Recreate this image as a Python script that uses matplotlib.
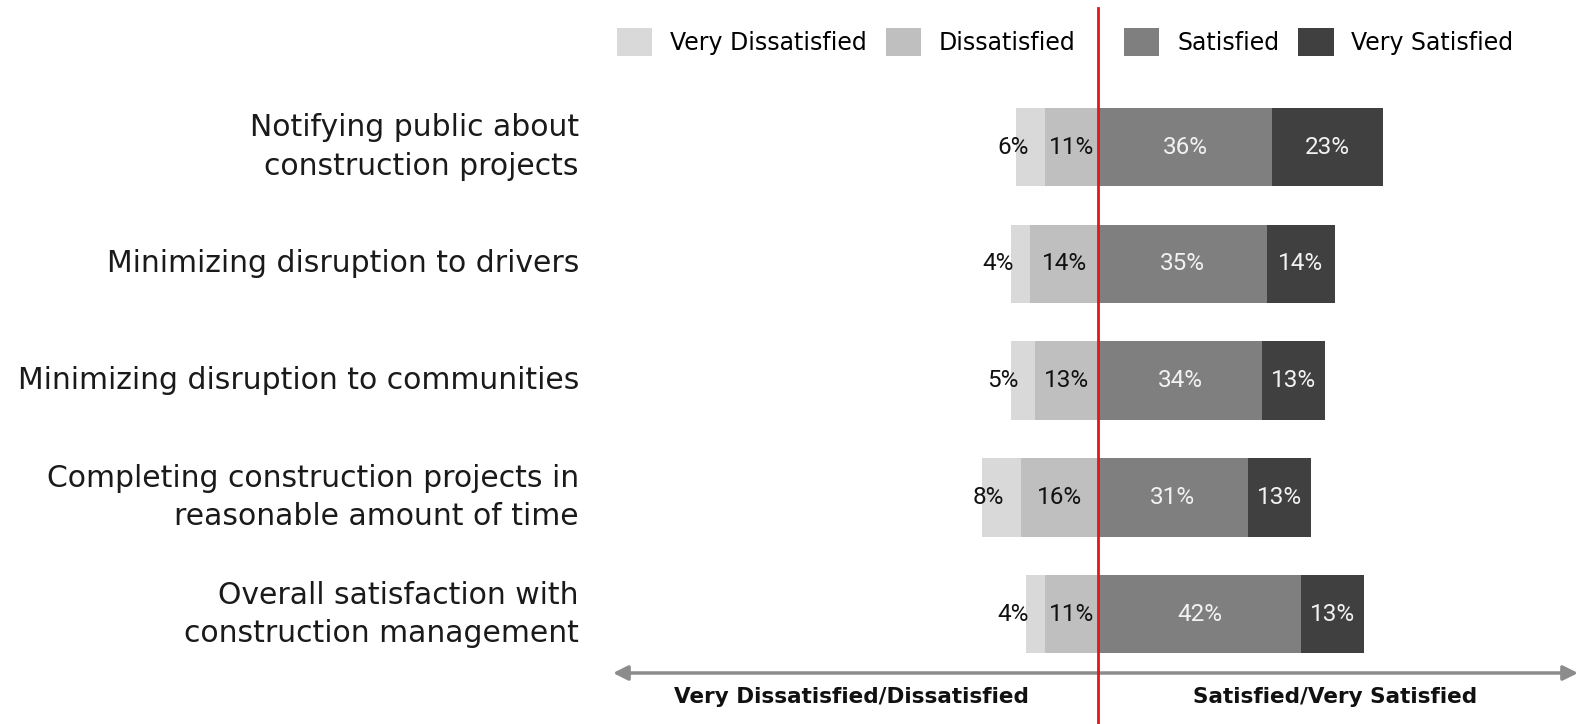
import numpy as np
import matplotlib.pyplot as plt

# survey items, top to bottom
items = ['Notifying public about\nconstruction projects',
         'Minimizing disruption to drivers',
         'Minimizing disruption to communities',
         'Completing construction projects in\nreasonable amount of time',
         'Overall satisfaction with\nconstruction management']
very_dissat = [6, 4, 5, 8, 4]
dissat      = [11, 14, 13, 16, 11]
satisfied   = [36, 35, 34, 31, 42]
very_sat    = [23, 14, 13, 13, 13]

c_vd, c_d, c_s, c_vs = '#D9D9D9', '#BFBFBF', '#7F7F7F', '#404040'
red = '#E8141B'

W, H = 1579, 724
fig = plt.figure(figsize=(W / 100, H / 100), dpi=100)
ax = fig.add_axes([0, 0, 1, 1])
# one data unit = 4.83 px, zero line at x=1098 px; rows 116.8 px apart, first at y=147
x0, ppu = 1098, 4.83
y0, row = 147, 116.8
ax.set_xlim(-x0 / ppu, (W - x0) / ppu)
ax.set_ylim((H - y0) / row, -y0 / row)
ax.axis('off')

def px_x(p):
    return (p - x0) / ppu

def px_y(p):
    return (p - y0) / row

y = np.arange(len(items))
vd = np.array(very_dissat); d = np.array(dissat)
s = np.array(satisfied); vs = np.array(very_sat)
bh = 0.67

b_vd = ax.barh(y, vd, left=-(d + vd), height=bh, color=c_vd, label='Very Dissatisfied')
b_d = ax.barh(y, d, left=-d, height=bh, color=c_d, label='Dissatisfied')
b_s = ax.barh(y, s, left=0, height=bh, color=c_s, label='Satisfied')
b_vs = ax.barh(y, vs, left=s, height=bh, color=c_vs, label='Very Satisfied')

pct_font = dict(family='Roboto', fontsize=17.5, va='center')
for i in y:
    ax.text(-d[i] - 3.4, i, f'{vd[i]}%', ha='right', color='#111111', **pct_font)
    ax.text(-d[i] / 2, i, f'{d[i]}%', ha='center', color='#111111', **pct_font)
    ax.text(s[i] / 2, i, f'{s[i]}%', ha='center', color='#F2F2F2', **pct_font)
    ax.text(s[i] + vs[i] / 2, i, f'{vs[i]}%', ha='center', color='#F2F2F2', **pct_font)
    ax.text(px_x(579), i, items[i], ha='right', va='center', fontsize=21.5,
            family='DejaVu Sans', color='#1a1a1a', linespacing=1.4)

# zero line
ax.axvline(0, ymin=0, ymax=1 - 8 / H, color=red, lw=2, zorder=5)

# double-headed scale arrow along the bottom
ya = px_y(673)
ax.annotate('', xy=(px_x(613), ya), xytext=(px_x(1578), ya),
            arrowprops=dict(arrowstyle='<|-|>', color='#8C8C8C', lw=2.5,
                            mutation_scale=22, shrinkA=0, shrinkB=0))
yb = px_y(697)
ax.text(px_x(851), yb, 'Very Dissatisfied/Dissatisfied', ha='center', va='center',
        fontsize=15.5, family='DejaVu Sans', fontweight='bold', color='#111111')
ax.text(px_x(1335), yb, 'Satisfied/Very Satisfied', ha='center', va='center',
        fontsize=15.5, family='DejaVu Sans', fontweight='bold', color='#111111')

# legend split around the zero line
leg_kw = dict(frameon=False, ncol=2, handlelength=1.5, handleheight=1.5,
              handletextpad=0.75, columnspacing=0.8, borderpad=0, borderaxespad=0,
              prop=dict(family='DejaVu Sans', size=17))
fig.legend(handles=[b_vd, b_d], loc='center left',
           bbox_to_anchor=(617 / W, 1 - 42 / H), **leg_kw)
fig.legend(handles=[b_s, b_vs], loc='center left',
           bbox_to_anchor=(1124 / W, 1 - 42 / H), **leg_kw)

fig.savefig('out.png', dpi=100)
